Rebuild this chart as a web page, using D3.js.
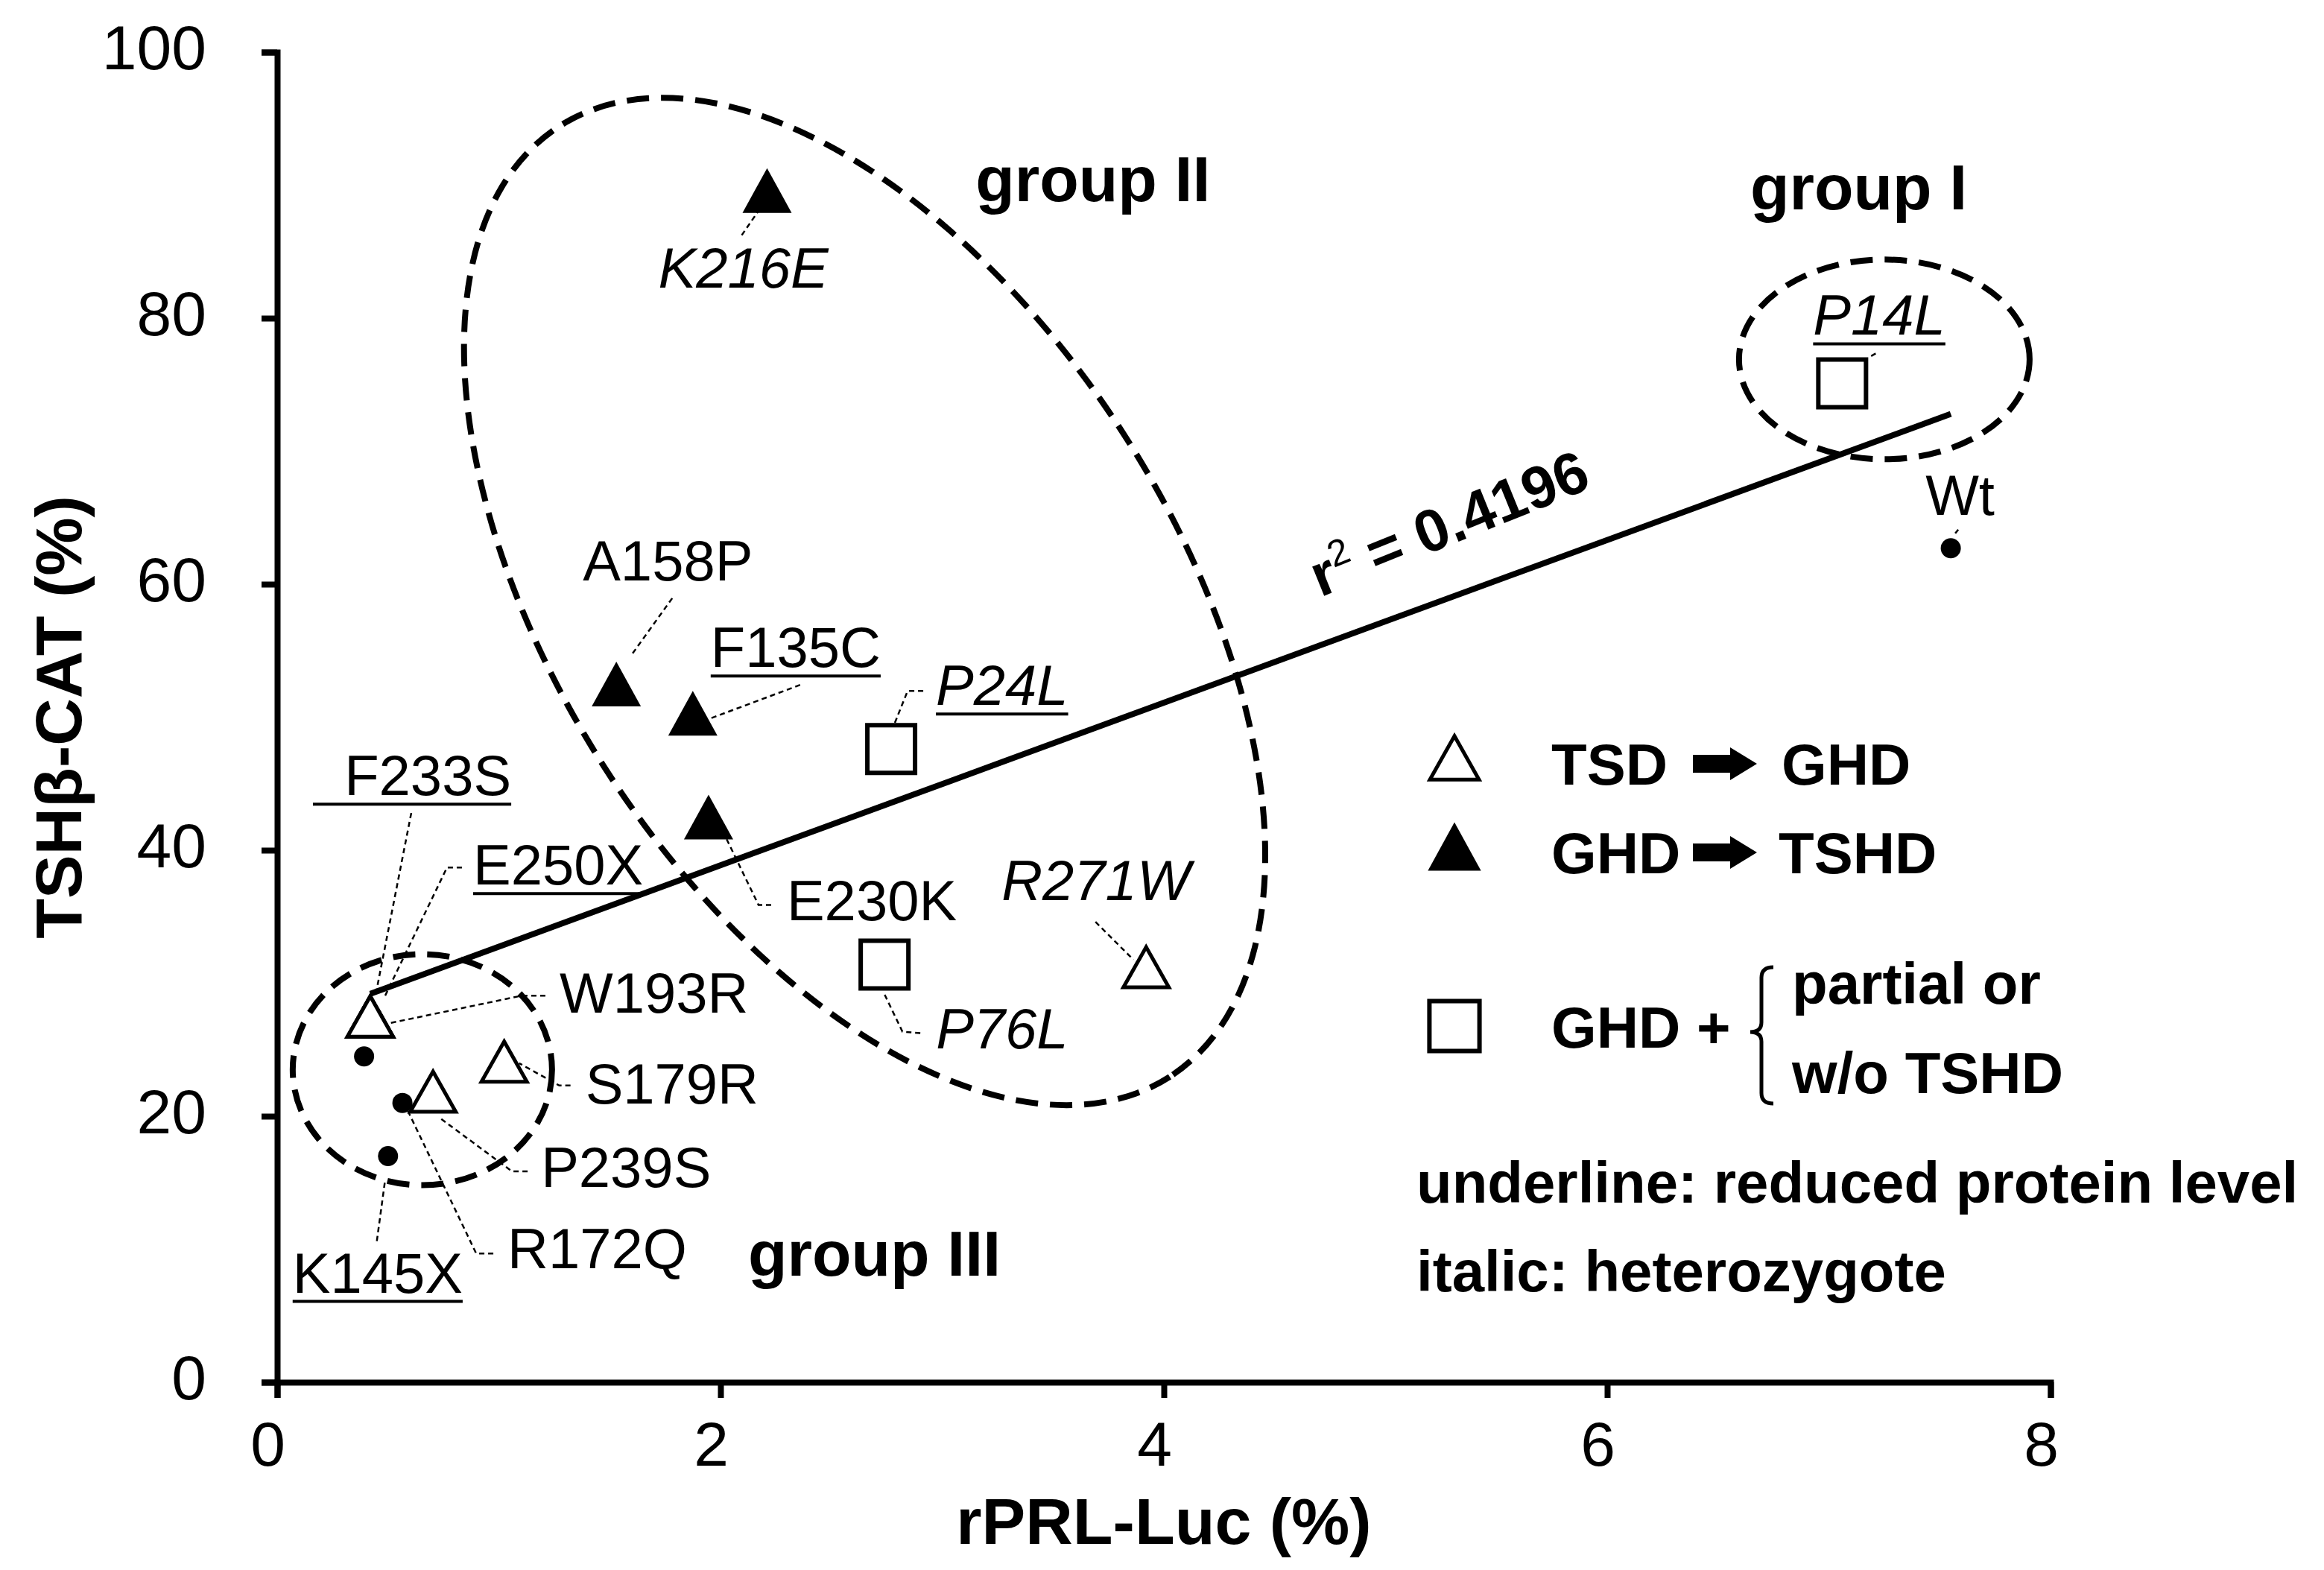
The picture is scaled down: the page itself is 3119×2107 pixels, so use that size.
<!DOCTYPE html>
<html>
<head>
<meta charset="utf-8">
<script src="https://cdn.jsdelivr.net/npm/d3@7"></script>
<style>
  body { margin: 0; background: #fff; }
  text { font-family: "Liberation Sans", Arial, Helvetica, sans-serif; }
</style>
</head>
<body>
<div id="chart"></div>
<script>
// mutants
const names     = ["K216E","A158P","F135C","E230K","P24L","P76L","R271W","P14L",
                   "F233S","E250X","W193R","S179R","P239S","R172Q","K145X","Wt",""];
const rprlLuc   = [2.21, 1.53, 1.875, 1.946, 2.77, 2.74, 3.92, 7.06,
                   0.42, 0.42, 0.42, 1.024, 0.703, 0.565, 0.50, 7.55, 0.392];
const tshbCat   = [89.6, 52.5, 50.3, 42.5, 47.6, 31.4, 31.2, 75.1,
                   27.5, 27.5, 27.5, 24.1, 21.85, 21.0, 17.0, 62.7, 24.5];
const phenotype = ["GHD>TSHD","GHD>TSHD","GHD>TSHD","GHD>TSHD","GHD+","GHD+","TSD>GHD","GHD+",
                   "TSD>GHD","TSD>GHD","TSD>GHD","TSD>GHD","TSD>GHD","none","none","none","none"];
const heterozygote   = ["K216E","P24L","P76L","R271W","P14L"];
const reducedProtein = ["F135C","P24L","P14L","F233S","E250X","K145X"];

const xTicks = [0, 2, 4, 6, 8];
const yTicks = [0, 20, 40, 60, 80, 100];

// regression line and groups
const trendX = [0.42, 7.55];
const trendY = [29.2, 72.8];
const r2 = "0.4196";
const groupNames = ["group I", "group II", "group III"];
const groupCx    = [7.25, 2.65, 0.655];
const groupCy    = [76.9, 58.7, 23.5];

const width = 3119, height = 2107;
const svg = d3.select("#chart").append("svg")
  .attr("width", width).attr("height", height)
  .style("background", "#fff");

const x = d3.scaleLinear().domain([0, 8]).range([372, 2752]);
const y = d3.scaleLinear().domain([0, 100]).range([1855, 70]);

// label placement: offsets (px) from the marker, leader polyline from label to marker
const labelLayout = {
  K216E: { dx: -146, dy: 130, lead: [[-34, 60], [-12, 28]] },
  A158P: { dx: -45, dy: -139, lead: [[75, -115], [19, -37]] },
  F135C: { dx: 24, dy: -62, lead: [[144, -38], [21, 8]] },
  E230K: { dx: 105, dy: 139, lead: [[84, 118], [67, 118], [21, 23]] },
  P24L:  { dx: 60, dy: -59, lead: [[43, -78], [22, -78], [4, -33]] },
  P76L:  { dx: 69, dy: 112, lead: [[48, 92], [24, 90], [-1, 38]] },
  R271W: { dx: -194, dy: -90, lead: [[-68, -61], [-17, -10]] },
  P14L:  { dx: -39, dy: -65, lead: [[45, -40], [36, -35]] },
  F233S: { dx: -77, dy: -297, lead: [[55, -273], [7, -28]], pad: 2 },
  E250X: { dx: 138, dy: -177, lead: [[123, -200], [103, -200], [20, -28]] },
  W193R: { dx: 254, dy: -5, lead: [[235, -28], [204, -28], [26, 9]] },
  S179R: { dx: 109, dy: 56, lead: [[89, 32], [74, 32], [20, 2]] },
  P239S: { dx: 145, dy: 128, lead: [[127, 107], [106, 107], [10, 36]] },
  R172Q: { dx: 141, dy: 222, lead: [[122, 202], [99, 202], [6, 8]] },
  K145X: { dx: -128, dy: 183, lead: [[-15, 114], [-4, 33]] },
  Wt:    { dx: -34, dy: -45, lead: [[10, -25], [6, -20]] }
};

const ellipseStyle = [
  { rx: 195, ry: 134, rot: 0 },
  { rx: 758, ry: 414, rot: 57.3 },
  { rx: 174, ry: 155, rot: 0 }
];
const groupLabelAt = [[6.645, 88.2], [3.15, 88.8], [2.124, 8.0]];

const points = names.map((n, i) => ({
  name: n, x: rprlLuc[i], y: tshbCat[i], type: phenotype[i],
  italic: heterozygote.includes(n), underline: reducedProtein.includes(n)
}));

// group ellipses
svg.append("g").selectAll("ellipse")
  .data(groupNames)
  .join("ellipse")
  .attr("cx", (d, i) => x(groupCx[i]))
  .attr("cy", (d, i) => y(groupCy[i]))
  .attr("rx", (d, i) => ellipseStyle[i].rx)
  .attr("ry", (d, i) => ellipseStyle[i].ry)
  .attr("transform", (d, i) => `rotate(${ellipseStyle[i].rot},${x(groupCx[i])},${y(groupCy[i])})`)
  .attr("fill", "none")
  .attr("stroke", "#000")
  .attr("stroke-width", 8)
  .attr("stroke-dasharray", "30,16");

svg.append("g").selectAll("text")
  .data(groupNames)
  .join("text")
  .attr("x", (d, i) => x(groupLabelAt[i][0]))
  .attr("y", (d, i) => y(groupLabelAt[i][1]))
  .attr("font-size", 86)
  .attr("font-weight", "bold")
  .text(d => d);

// regression line
svg.append("path")
  .datum(trendX.map((v, i) => [v, trendY[i]]))
  .attr("d", d3.line().x(d => x(d[0])).y(d => y(d[1])))
  .attr("fill", "none")
  .attr("stroke", "#000")
  .attr("stroke-width", 8);

const r2Text = svg.append("text")
  .attr("transform", `translate(${x(4.706)},${y(59.0)}) rotate(-22)`)
  .attr("font-size", 80)
  .attr("font-weight", "bold");
r2Text.append("tspan").text("r");
r2Text.append("tspan").attr("font-size", 50).attr("font-weight", "normal").attr("dy", -30).text("2");
r2Text.append("tspan").attr("dy", 30).text(` = ${r2}`);

// leader lines
const labeled = points.filter(p => labelLayout[p.name]);
svg.append("g").selectAll("path")
  .data(labeled)
  .join("path")
  .attr("d", p => {
    const px = x(p.x), py = y(p.y);
    return d3.line()(labelLayout[p.name].lead.map(o => [px + o[0], py + o[1]]));
  })
  .attr("fill", "none")
  .attr("stroke", "#000")
  .attr("stroke-width", 2.5)
  .attr("stroke-dasharray", "7,5");

// markers
function triangle(w, h) {
  return `M0,${-h / 2}L${w / 2},${h / 2}L${-w / 2},${h / 2}Z`;
}
function square(s) {
  return `M${-s / 2},${-s / 2}H${s / 2}V${s / 2}H${-s / 2}Z`;
}
function drawMarker(sel, type, k = 1) {
  if (type === "TSD>GHD") {
    sel.append("path").attr("d", triangle(61 * k, 54 * k))
      .attr("fill", "#fff").attr("stroke", "#000").attr("stroke-width", 5).attr("stroke-linejoin", "miter");
  } else if (type === "GHD>TSHD") {
    sel.append("path").attr("d", triangle(66 * k, 60 * k)).attr("fill", "#000");
  } else if (type === "GHD+") {
    sel.append("path").attr("d", square(64 * k))
      .attr("fill", "#fff").attr("stroke", "#000").attr("stroke-width", 6);
  } else {
    sel.append("circle").attr("r", 13.5).attr("fill", "#000");
  }
}

svg.append("g").selectAll("g")
  .data(points)
  .join("g")
  .attr("transform", p => `translate(${x(p.x)},${y(p.y)})`)
  .each(function (p) { drawMarker(d3.select(this), p.type); });

// point labels
const lab = svg.append("g").selectAll("g")
  .data(labeled)
  .join("g");
lab.append("text")
  .attr("x", p => x(p.x) + labelLayout[p.name].dx)
  .attr("y", p => y(p.y) + labelLayout[p.name].dy)
  .attr("font-size", 76)
  .attr("font-style", p => p.italic ? "italic" : "normal")
  .text(p => "\u00a0".repeat(labelLayout[p.name].pad || 0) + p.name);
lab.filter(p => p.underline).each(function (p) {
  const t = d3.select(this).select("text");
  const len = t.node().getComputedTextLength();
  const tx = x(p.x) + labelLayout[p.name].dx, ty = y(p.y) + labelLayout[p.name].dy;
  d3.select(this).append("line")
    .attr("x1", tx).attr("x2", tx + len)
    .attr("y1", ty + 12).attr("y2", ty + 12)
    .attr("stroke", "#000").attr("stroke-width", 4);
});

// axes
const xAxis = d3.axisBottom(x).tickValues(xTicks).tickSize(21).tickPadding(31).tickFormat(d3.format("d"));
const yAxis = d3.axisLeft(y).tickValues(yTicks).tickSize(21).tickPadding(74).tickFormat(d3.format("d"));

svg.append("g")
  .attr("transform", `translate(0,${y(0)})`)
  .call(xAxis)
  .attr("font-size", 84)
  .attr("font-family", "Liberation Sans, Arial, sans-serif")
  .call(g => g.selectAll(".domain, .tick line").attr("stroke-width", 8))
  .call(g => g.selectAll(".tick text").attr("dx", -13));

svg.append("g")
  .attr("transform", `translate(${x(0)},0)`)
  .call(yAxis)
  .attr("font-size", 84)
  .attr("font-family", "Liberation Sans, Arial, sans-serif")
  .call(g => g.selectAll(".domain, .tick line").attr("stroke-width", 8))
  .call(g => g.selectAll(".tick text").attr("dy", "0.27em"));

svg.append("text")
  .attr("x", (x(0) + x(8)) / 2)
  .attr("y", 2072)
  .attr("text-anchor", "middle")
  .attr("font-size", 88)
  .attr("font-weight", "bold")
  .text("rPRL-Luc (%)");

svg.append("text")
  .attr("transform", `translate(109,${(y(0) + y(100)) / 2}) rotate(-90)`)
  .attr("text-anchor", "middle")
  .attr("font-size", 88)
  .attr("font-weight", "bold")
  .text("TSH\u03b2-CAT (%)");

// legend
const legendTypes = ["TSD>GHD", "GHD>TSHD", "GHD+"];
const legendLeft  = ["TSD", "GHD", "GHD +"];
const legendRight = ["GHD", "TSHD", ""];
const legendRowY  = [1053, 1172, 1406];
const leg = svg.append("g");
legendTypes.forEach((t, i) => {
  const g = leg.append("g").attr("transform", `translate(1952,${legendRowY[i] - (i < 2 ? 36 : 29)})`);
  drawMarker(g, t, i < 2 ? 1.08 : 1.05);
  leg.append("text").attr("x", 2082).attr("y", legendRowY[i])
    .attr("font-size", 78).attr("font-weight", "bold").text(legendLeft[i]);
  if (legendRight[i]) {
    const ay = legendRowY[i] - 28;
    leg.append("path")
      .attr("d", `M2272,${ay - 12}H2322V${ay - 22}L2358,${ay}L2322,${ay + 22}V${ay + 12}H2272Z`)
      .attr("fill", "#000");
    leg.append("text").attr("x", i === 0 ? 2391 : 2387).attr("y", legendRowY[i])
      .attr("font-size", 78).attr("font-weight", "bold").text(legendRight[i]);
  }
});
leg.append("path")
  .attr("d", "M2380,1298 Q2364,1298 2364,1312 V1372 Q2364,1385 2349,1385 Q2364,1385 2364,1398 V1467 Q2364,1481 2380,1481")
  .attr("fill", "none").attr("stroke", "#000").attr("stroke-width", 5);
leg.append("text").attr("x", 2405).attr("y", 1347)
  .attr("font-size", 78).attr("font-weight", "bold").text("partial or");
leg.append("text").attr("x", 2405).attr("y", 1467)
  .attr("font-size", 78).attr("font-weight", "bold").text("w/o TSHD");

const notes = ["underline: reduced protein level", "italic: heterozygote"];
leg.selectAll(".note")
  .data(notes)
  .join("text")
  .attr("class", "note")
  .attr("x", 1901)
  .attr("y", (d, i) => 1614 + i * 119)
  .attr("font-size", 78)
  .attr("font-weight", "bold")
  .text(d => d);
</script>
</body>
</html>
